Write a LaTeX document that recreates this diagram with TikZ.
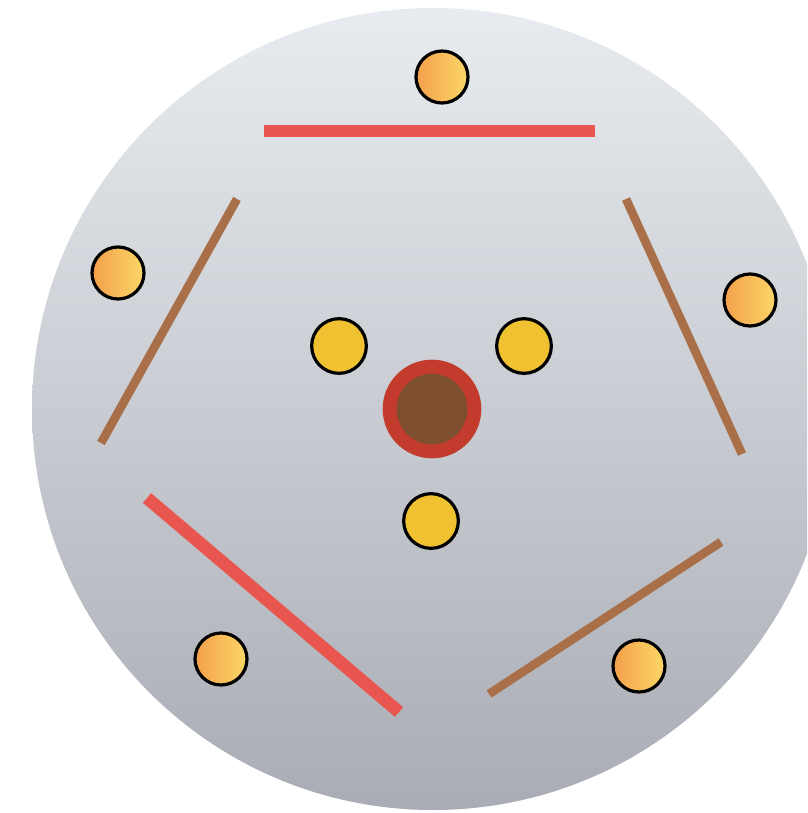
\documentclass[tikz,border=0pt]{standalone}
\begin{document}
\begin{tikzpicture}[x=0.75pt,y=-0.75pt]
\definecolor{bgtop}{HTML}{E8ECF0}
\definecolor{bgbot}{HTML}{A9ACB4}
\definecolor{redbar}{HTML}{E9564F}
\definecolor{brownbar}{HTML}{A96F48}
\definecolor{orL}{HTML}{F4A04B}
\definecolor{orR}{HTML}{FBD767}
\definecolor{yel}{HTML}{F0C232}
\definecolor{ring}{HTML}{C23B2D}
\definecolor{core}{HTML}{7D4F2E}
\tikzset{
  orangedot/.style={circle, draw=black, line width=2.4pt, minimum size=39pt, inner sep=0pt, left color=orL, right color=orR},
  yellowdot/.style={circle, draw=black, line width=2.4pt, minimum size=41pt, inner sep=0pt, fill=yel},
  redstick/.style={redbar, line width=9.5pt},
  brownstick/.style={brownbar, line width=6.5pt}
}
\useasboundingbox (0,0) rectangle (807,813);
\fill[white] (0,0) rectangle (807,813);
\begin{scope}
\clip (0,0) rectangle (807,813);
\shade[top color=bgtop, bottom color=bgbot] (433,409) circle[radius=401*0.75pt];
\end{scope}
% bars
\coordinate (t1) at (264,131); \coordinate (t2) at (595,131);
\coordinate (ul1) at (237,199); \coordinate (ul2) at (101,443);
\coordinate (ur1) at (626,199); \coordinate (ur2) at (742,454);
\coordinate (bl1) at (147,498); \coordinate (bl2) at (399,712);
\coordinate (br1) at (721,542); \coordinate (br2) at (489,694);
\draw[redstick] (t1) -- (t2);
\draw[brownstick] (ul1) -- (ul2);
\draw[brownstick] (ur1) -- (ur2);
\draw[redstick] (bl1) -- (bl2);
\draw[brownstick] (br1) -- (br2);
% outer dots
\node[orangedot] (o1) at (442,77) {};
\node[orangedot] (o2) at (118,273) {};
\node[orangedot] (o3) at (750,300) {};
\node[orangedot] (o4) at (221,659) {};
\node[orangedot] (o5) at (639,666) {};
% centre
\node[circle, fill=ring, minimum size=74pt, inner sep=0pt] (ctr) at (432,409) {};
\node[circle, fill=core, minimum size=53pt, inner sep=0pt] (ctrin) at (432,409) {};
% yellow dots
\node[yellowdot] (y1) at (339,346) {};
\node[yellowdot] (y2) at (524,346) {};
\node[yellowdot] (y3) at (431,521) {};
\end{tikzpicture}
\end{document}
